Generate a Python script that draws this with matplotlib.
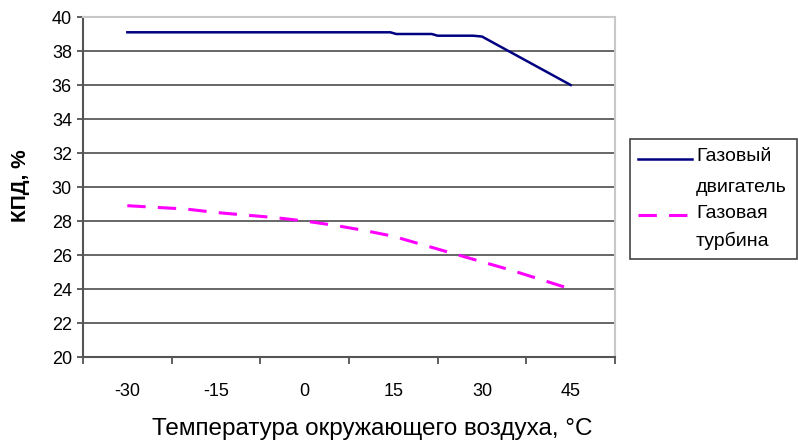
import matplotlib
matplotlib.use("Agg")
import matplotlib.pyplot as plt
from matplotlib.ticker import FixedLocator
from matplotlib.lines import Line2D
from matplotlib.patches import Rectangle

plt.rcParams['font.family'] = ['Liberation Sans', 'DejaVu Sans']

# Data
tick_labels = ["-30", "-15", "0", "15", "30", "45"]
tick_values = [-30, -15, 0, 15, 30, 45]

engine_t = [-30, 14.5, 15.5, 21.5, 22.5, 28.5, 30, 45]
engine_eff = [39.1, 39.1, 39.0, 39.0, 38.9, 38.9, 38.85, 36.0]

turbine_t = [-30, -25, -20, -15, -10, -5, 0, 5, 10, 15, 20, 25, 30, 35, 40, 45]
turbine_eff = [28.9, 28.8, 28.7, 28.5, 28.35, 28.2, 28.0, 27.75, 27.45, 27.1,
               26.6, 26.1, 25.6, 25.1, 24.55, 24.0]

series_names = [["Газовый", "двигатель"], ["Газовая", "турбина"]]
colors = ['#000080', '#ff00ff']

W, H = 798, 445
fig = plt.figure(figsize=(W/100, H/100), dpi=100)
ax = fig.add_axes([83/W, 1-357/H, (615-83)/W, (357-17)/H])

ax.plot(engine_t, engine_eff, color=colors[0], lw=1.8)
ax.plot(turbine_t, turbine_eff, color=colors[1], lw=2.2, dashes=(6, 4))

ax.set_xlim(-37.5, 52.5)
ax.set_ylim(20, 40)
ax.set_yticks(range(20, 41, 2))
ax.yaxis.grid(True, color='#5a5a5a', lw=1.3)
ax.set_axisbelow(True)

ax.xaxis.set_major_locator(FixedLocator(tick_values))
ax.set_xticklabels(tick_labels)
ax.xaxis.set_minor_locator(FixedLocator([-37.5 + 15*k for k in range(7)]))
ax.tick_params(axis='x', which='major', length=0, pad=19, labelsize=13)
ax.tick_params(axis='x', which='minor', length=5, width=1.2, color='#444444')
ax.tick_params(axis='y', length=4, width=1.2, color='#444444', labelsize=13, pad=4)

for s in ['top', 'right']:
    ax.spines[s].set_color('#c8c8c8')
    ax.spines[s].set_linewidth(1.5)
for s in ['left', 'bottom']:
    ax.spines[s].set_color('#555555')
    ax.spines[s].set_linewidth(1.5)

fig.text(372/W, 1-429/H, "Температура окружающего воздуха, °C", fontsize=17.5,
         ha='center', va='center')
fig.text(21/W, 1-186/H, "КПД, %", fontsize=15, fontweight='bold',
         rotation=90, ha='center', va='center')

# Legend (drawn manually to match the reference layout)
fig.add_artist(Rectangle((630/W, 1-259/H), (797-630)/W, (259-139)/H,
                         transform=fig.transFigure, fill=False,
                         edgecolor='#444444', lw=1.2))
fig.add_artist(Line2D([638/W, 692/W], [1-159/H, 1-159/H], transform=fig.transFigure,
                      color=colors[0], lw=1.8))
fig.add_artist(Line2D([638/W, 692/W], [1-215/H, 1-215/H], transform=fig.transFigure,
                      color=colors[1], lw=2.2, dashes=(6, 4)))
text_rows = [(157, series_names[0][0]), (187, series_names[0][1]),
             (213, series_names[1][0]), (241, series_names[1][1])]
for y, t in text_rows:
    fig.text(696/W, 1-y/H, t, fontsize=14, ha='left', va='center')

fig.savefig("out.png", dpi=100)
